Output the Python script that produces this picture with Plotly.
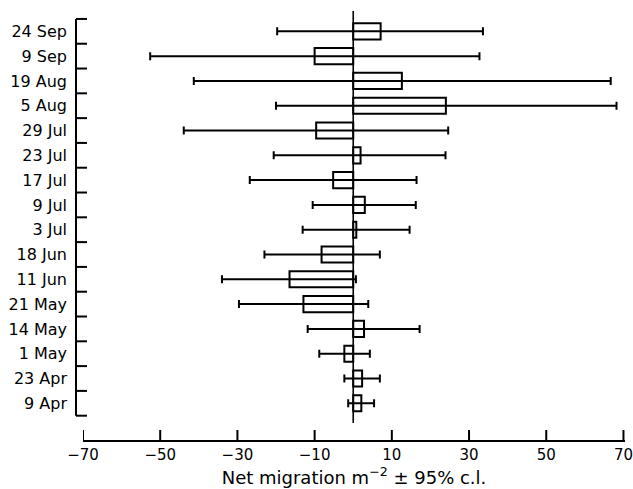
import plotly.graph_objects as go

dates = ["24 Sep", "9 Sep", "19 Aug", "5 Aug", "29 Jul", "23 Jul", "17 Jul", "9 Jul",
         "3 Jul", "18 Jun", "11 Jun", "21 May", "14 May", "1 May", "23 Apr", "9 Apr"]
net_migration = [7.1, -10.0, 12.6, 24.0, -9.6, 1.9, -5.2, 3.0,
                 0.8, -8.2, -16.5, -12.9, 2.8, -2.3, 2.3, 2.1]
ci_lower = [-19.7, -52.6, -41.3, -20.0, -43.9, -20.6, -26.8, -10.5,
            -13.1, -23.0, -34.0, -29.6, -11.8, -8.8, -2.3, -1.3]
ci_upper = [33.6, 32.7, 66.7, 68.2, 24.6, 23.9, 16.4, 16.2,
            14.6, 6.9, 0.7, 3.9, 17.2, 4.3, 6.9, 5.4]
x_ticks = [-70, -50, -30, -10, 10, 30, 50, 70]

n = len(dates)
ypos = [n - 1 - i for i in range(n)]
err_plus = [u - v for u, v in zip(ci_upper, net_migration)]
err_minus = [v - l for v, l in zip(net_migration, ci_lower)]

FONT = "DejaVu Sans, Liberation Sans, Arial, sans-serif"
W, H = 633, 489
ML, MR, MT, MB = 83, 8, 11, 49
PLOT_W = W - ML - MR
PLOT_H = H - MT - MB

fig = go.Figure()
fig.add_trace(go.Bar(
    x=net_migration, y=ypos, orientation="h", width=0.65,
    marker=dict(color="white", line=dict(color="black", width=2)),
    error_x=dict(type="data", symmetric=False, array=err_plus, arrayminus=err_minus,
                 color="black", thickness=2, width=4),
    showlegend=False, hoverinfo="skip",
))

# zero reference line
fig.add_shape(type="line", xref="x", yref="y", x0=0, x1=0, y0=-0.79, y1=15.82,
              line=dict(color="black", width=1.6))

# detached y axis line and boundary ticks, a few px left of the plot area
ax_x = -7 / PLOT_W
tick_x = 4 / PLOT_W
fig.add_shape(type="line", xref="paper", yref="y", x0=ax_x, x1=ax_x, y0=-0.5, y1=n - 0.5,
              line=dict(color="black", width=2))
for i in range(n + 1):
    fig.add_shape(type="line", xref="paper", yref="y", x0=ax_x, x1=tick_x,
                  y0=i - 0.5, y1=i - 0.5, line=dict(color="black", width=2))

# x tick marks pointing up into the plot
for v in x_ticks:
    fig.add_shape(type="line", xref="x", yref="paper", x0=v, x1=v, y0=0, y1=10 / PLOT_H,
                  line=dict(color="black", width=2))

fig.update_layout(
    width=W, height=H,
    margin=dict(l=ML, r=MR, t=MT, b=MB),
    plot_bgcolor="white", paper_bgcolor="white",
    font=dict(family=FONT, color="black"),
    xaxis=dict(
        automargin=False,
        range=[-70, 70.4], tickvals=x_ticks,
        ticks="", showline=True, linecolor="black", linewidth=2,
        showgrid=False, zeroline=False,
        tickfont=dict(size=15), ticklabeloverflow="allow",
        title=dict(text="Net migration m<sup>\u22122</sup> \u00b1 95% c.l.",
                   font=dict(size=18), standoff=5),
    ),
    yaxis=dict(
        automargin=False,
        range=[-1.48, 15.82],
        tickvals=ypos, ticktext=dates, ticks="",
        showline=False, showgrid=False, zeroline=False,
        tickfont=dict(size=16), ticklabelstandoff=15,
    ),
)

fig.write_html("out.html", config={"displayModeBar": False},
               post_script="document.body.style.margin='0';")
